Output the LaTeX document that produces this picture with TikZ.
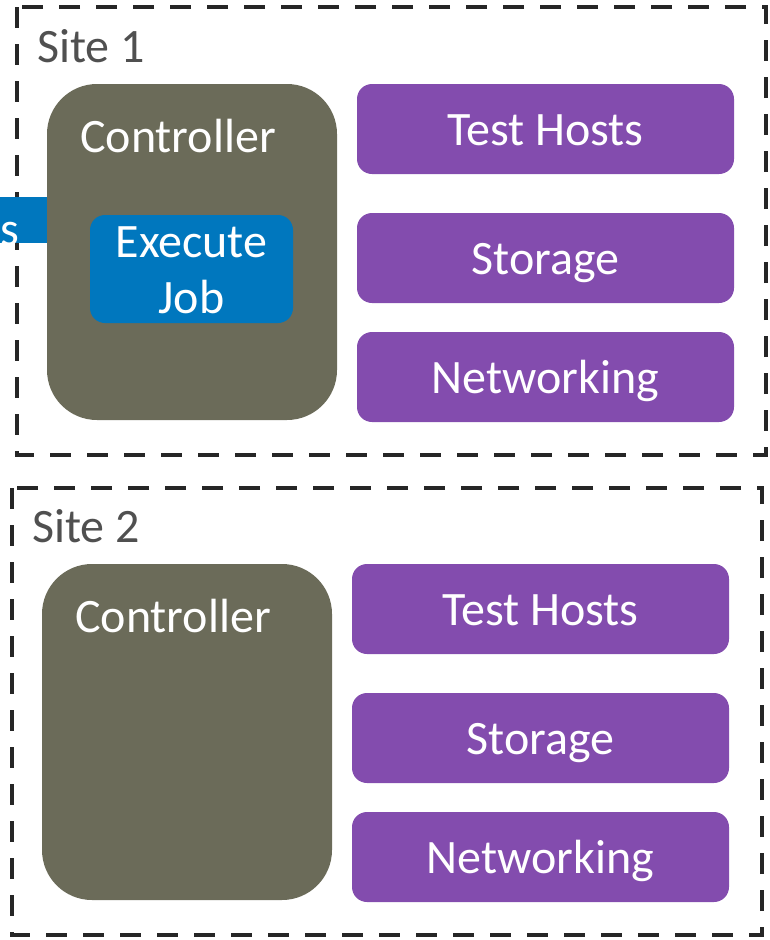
\documentclass[tikz,border=0pt]{standalone}
\usepackage{fontspec}
\setmainfont{Carlito}
\definecolor{ctrlgrey}{HTML}{6B6B59}
\definecolor{resviolet}{HTML}{834CAE}
\definecolor{jobblue}{HTML}{0077BE}
\definecolor{framedark}{HTML}{262626}
\definecolor{labelgrey}{HTML}{505050}
\tikzset{
  bigfont/.style={font=\fontsize{48}{56}\selectfont},
  sitebox/.style={draw=framedark, line width=4.5pt, dash pattern=on 21pt off 16pt},
  sitelabel/.style={anchor=base west, text=labelgrey, bigfont, inner sep=0pt},
  ctrlbox/.style={fill=ctrlgrey, rounded corners=50pt, minimum width=290pt, minimum height=336pt, inner sep=0pt},
  ctrltext/.style={anchor=base, text=white, bigfont, inner sep=0pt},
  resbox/.style={fill=resviolet, rounded corners=15pt, minimum width=377pt, minimum height=90pt,
    text=white, bigfont, inner sep=0pt, text height=40pt, text depth=8pt},
  jobbox/.style={fill=jobblue, rounded corners=15pt, minimum width=203pt, minimum height=108pt, inner sep=0pt},
  jobtext/.style={anchor=base, text=white, bigfont, align=center, inner sep=0pt},
}
\begin{document}
\begin{tikzpicture}[x=1pt,y=-1pt]
\useasboundingbox (0,0) rectangle (770,940);

% Site 1
\draw[sitebox] (17,7) rectangle (766,455);
\node[sitelabel] (site1) at (37,62) {Site 1};
\node[ctrlbox] (ctrl1) at (192,252) {};
\node[ctrltext] (ctrl1t) at (178,152) {Controller};
\node[jobbox] (exec) at (191.5,269) {};
% base anchor sits on the last line ("Job")
\node[jobtext] (exectext) at (191.5,313) {Execute\\Job};
\fill[jobblue] (0,197) rectangle (47,243);
\node[text=white, bigfont, anchor=base west, inner sep=0pt] (jobs) at (0,245) {s};
\node[resbox] (th1) at (545.5,129) {Test Hosts};
\node[resbox] (st1) at (545.5,258) {Storage};
\node[resbox] (nw1) at (545.5,377) {Networking};

% Site 2
\draw[sitebox] (12,488) rectangle (762,935);
\node[sitelabel] (site2) at (32,542) {Site 2};
\node[ctrlbox] (ctrl2) at (187,732) {};
\node[ctrltext] (ctrl2t) at (173,632) {Controller};
\node[resbox] (th2) at (540.5,609) {Test Hosts};
\node[resbox] (st2) at (540.5,738) {Storage};
\node[resbox] (nw2) at (540.5,857) {Networking};
\end{tikzpicture}
\end{document}
